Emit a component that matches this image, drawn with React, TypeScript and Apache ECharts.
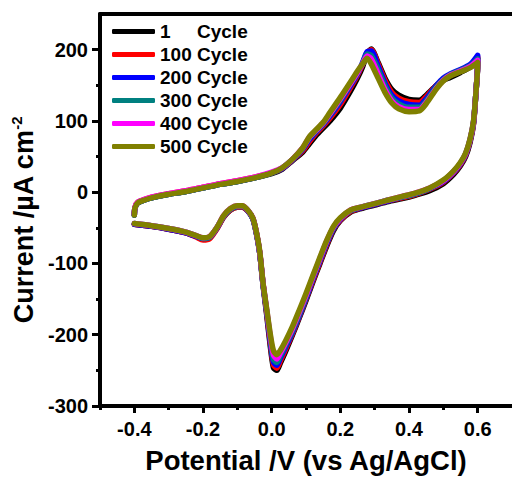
import React, { useEffect, useRef } from "react";
import * as echarts from "echarts";

const cycleNames = ["1 Cycle", "100 Cycle", "200 Cycle", "300 Cycle", "400 Cycle", "500 Cycle"];
const cycleColors = ["#000000", "#ff0000", "#0000ff", "#008080", "#ff00ff", "#808000"];

// Potential (V vs Ag/AgCl): forward scan -0.4 -> 0.6, then reverse 0.6 -> -0.4
const potentialV = [
  -0.4, -0.398, -0.39, -0.37, -0.35, -0.3, -0.25, -0.2, -0.15, -0.1, -0.05, 0.0, 0.03, 0.06, 0.09, 0.11, 0.13, 0.15, 0.17,
  0.2, 0.23, 0.25, 0.265, 0.278, 0.29, 0.31, 0.33, 0.35, 0.37, 0.4, 0.43, 0.45, 0.48, 0.5, 0.52, 0.55, 0.58, 0.6,
  0.6, 0.595, 0.588, 0.578, 0.565, 0.55, 0.53, 0.5, 0.46, 0.42, 0.38, 0.34, 0.3, 0.26, 0.23, 0.2, 0.18, 0.16, 0.14,
  0.12, 0.1, 0.08, 0.06, 0.04, 0.025, 0.015, 0.005, -0.005, -0.015, -0.025, -0.035, -0.045, -0.055, -0.07, -0.085,
  -0.1, -0.12, -0.14, -0.16, -0.18, -0.2, -0.22, -0.25, -0.3, -0.35, -0.4,
];

// Current density (µA cm^-2) per cycle, same order as potentialV
const current1 = [
  -32, -22, -15, -11, -8, -3, 1, 6, 11, 15, 20, 26, 32, 44, 56, 68, 80, 90, 100, 118, 142, 160, 176, 194, 201, 182,
  160, 144, 136, 130, 129, 136, 150, 157, 161, 168, 176, 188,
  182, 140, 96, 70, 50, 37, 25, 12, 2, -4, -9, -13, -18, -23, -28, -40, -54, -76, -101, -126, -152, -177, -201, -224,
  -240, -250, -246, -212, -170, -131, -85, -56, -37, -26, -21, -21, -25, -35, -51, -63, -65, -62, -57, -52, -48, -45,
];
const current100 = [
  -31, -21, -14, -10, -7, -2, 2, 7, 12, 16, 21, 27, 33, 45, 58, 71, 83, 93, 104, 123, 147, 164, 180, 196, 200, 180,
  157, 140, 132, 127, 126, 134, 150, 159, 164, 170, 178, 190,
  181, 140, 97, 72, 52, 39, 27, 14, 4, -3, -8, -12, -17, -22, -27, -39, -52, -74, -99, -124, -150, -175, -199, -221,
  -237, -247, -242, -208, -167, -129, -84, -56, -37, -26, -21, -21, -25, -35, -52, -65, -67, -63, -57, -52, -48, -45,
];
const current200 = [
  -32, -22, -15, -11, -8, -3, 1, 6, 11, 15, 20, 27, 33, 45, 60, 74, 85, 95, 107, 127, 150, 166, 182, 197, 198, 177,
  153, 136, 128, 123, 122, 131, 150, 160, 166, 172, 180, 192,
  180, 140, 98, 73, 53, 40, 28, 15, 5, -2, -7, -12, -17, -22, -26, -38, -51, -72, -97, -122, -149, -174, -197, -218,
  -233, -243, -238, -205, -166, -130, -85, -57, -37, -26, -20, -20, -24, -34, -51, -63, -65, -62, -57, -52, -48, -45,
];
const current300 = [
  -32, -22, -15, -11, -8, -3, 1, 6, 11, 15, 20, 27, 34, 46, 61, 76, 86, 96, 109, 129, 152, 167, 181, 194, 192, 172,
  149, 132, 124, 119, 119, 128, 148, 158, 165, 171, 178, 187,
  179, 140, 99, 74, 54, 41, 29, 16, 5, -2, -7, -11, -16, -21, -26, -37, -50, -70, -95, -120, -147, -172, -195, -215,
  -230, -239, -234, -202, -165, -129, -84, -56, -37, -25, -20, -20, -24, -34, -50, -63, -65, -61, -56, -51, -47, -44,
];
const current400 = [
  -31, -21, -14, -10, -7, -2, 2, 7, 12, 16, 21, 28, 34, 46, 62, 77, 87, 97, 110, 131, 153, 168, 180, 191, 187, 166,
  144, 128, 120, 116, 116, 126, 146, 157, 164, 170, 177, 185,
  179, 140, 99, 74, 54, 41, 29, 16, 6, -1, -6, -11, -16, -21, -25, -37, -49, -69, -94, -119, -145, -169, -192, -212,
  -226, -234, -228, -199, -163, -128, -83, -55, -36, -25, -19, -19, -23, -33, -50, -62, -64, -61, -56, -51, -47, -44,
];
const current500 = [
  -32, -22, -15, -11, -8, -3, 1, 6, 11, 15, 20, 27, 34, 46, 62, 78, 88, 98, 112, 133, 155, 170, 180, 188, 180, 160,
  140, 125, 117, 113, 114, 124, 145, 156, 163, 169, 175, 182,
  178, 140, 100, 75, 55, 42, 30, 17, 6, -1, -6, -11, -16, -21, -25, -36, -48, -68, -92, -117, -142, -166, -189, -209,
  -222, -228, -222, -196, -162, -128, -82, -55, -36, -25, -19, -19, -23, -33, -50, -62, -64, -61, -56, -51, -47, -44,
];

const xMajorTicks = [-0.4, -0.2, 0, 0.2, 0.4, 0.6];
const xMinorTicks = [-0.5, -0.3, -0.1, 0.1, 0.3, 0.5];
const yMajorTicks = [-300, -200, -100, 0, 100, 200];
const yMinorTicks = [-250, -150, -50, 50, 150];

const FONT = "'Liberation Sans', Arial, sans-serif";

export default function App() {
  const ref = useRef<HTMLDivElement>(null);

  useEffect(() => {
    if (!ref.current) return;
    const chart = echarts.init(ref.current, undefined, { renderer: "svg" });
    const currents = [current1, current100, current200, current300, current400, current500];

    const series = currents.map((cur, i) => ({
      name: cycleNames[i],
      type: "line",
      xAxisIndex: 0,
      yAxisIndex: 0,
      data: potentialV.map((v, k) => [v, cur[k]]),
      showSymbol: false,
      symbol: "none",
      smooth: 0.25,
      lineStyle: { color: cycleColors[i], width: 5.5, cap: "round", join: "round" },
      itemStyle: { color: cycleColors[i] },
      z: 2 + i,
    }));

    const axisLine = { show: true, onZero: false, lineStyle: { color: "#000", width: 4 } };

    chart.setOption({
      animation: false,
      backgroundColor: "#fff",
      grid: {
        left: 100,
        top: 14,
        right: -4,
        bottom: 72,
        show: false,
      },
      legend: {
        orient: "vertical",
        left: 112,
        top: 22,
        padding: 0,
        itemWidth: 43,
        itemHeight: 5,
        itemGap: 4,
        icon: "roundRect",
        data: cycleNames,
        formatter: (name: string) => {
          const parts = name.split(" ");
          return `{n|${parts[0]}}{c|${parts[1]}}`;
        },
        textStyle: {
          fontFamily: FONT,
          fontWeight: "bold",
          fontSize: 19,
          lineHeight: 18,
          color: "#000",
          rich: {
            n: { width: 37, fontFamily: FONT, fontWeight: "bold", fontSize: 19, lineHeight: 18, color: "#000" },
            c: { fontFamily: FONT, fontWeight: "bold", fontSize: 19, lineHeight: 18, color: "#000" },
          },
        },
      },
      xAxis: [
        {
          type: "value",
          min: -0.5,
          max: 0.7,
          position: "bottom",
          axisLine,
          splitLine: { show: false },
          axisTick: { show: true, customValues: xMajorTicks, length: 7, lineStyle: { color: "#000", width: 3 } },
          axisLabel: {
            customValues: xMajorTicks,
            formatter: (v: number) => v.toFixed(1),
            fontFamily: FONT,
            fontWeight: "bold",
            fontSize: 20,
            color: "#000",
            margin: 13,
          },
          name: "Potential /V (vs Ag/AgCl)",
          nameLocation: "middle",
          nameGap: 40,
          nameTextStyle: { fontFamily: FONT, fontWeight: "bold", fontSize: 27.5, color: "#000" },
        },
        {
          type: "value",
          min: -0.5,
          max: 0.7,
          position: "bottom",
          offset: 0,
          axisLine: { show: false, onZero: false },
          splitLine: { show: false },
          axisTick: { show: true, customValues: xMinorTicks, length: 4, lineStyle: { color: "#000", width: 3 } },
          axisLabel: { show: false },
        },
        {
          type: "value",
          min: -0.5,
          max: 0.7,
          position: "top",
          offset: 0,
          axisLine,
          splitLine: { show: false },
          axisTick: { show: false },
          axisLabel: { show: false },
        },
      ],
      yAxis: [
        {
          type: "value",
          min: -300,
          max: 250,
          position: "left",
          axisLine,
          splitLine: { show: false },
          axisTick: { show: true, customValues: yMajorTicks, length: 8, lineStyle: { color: "#000", width: 3 } },
          axisLabel: {
            customValues: yMajorTicks,
            fontFamily: FONT,
            fontWeight: "bold",
            fontSize: 20,
            color: "#000",
            margin: 12,
          },
          name: "{a|Current /µA cm}{s|-2}",
          nameLocation: "middle",
          nameGap: 58,
          nameTextStyle: {
            padding: [0, 20, 0, 0],
            rich: {
              a: { fontFamily: FONT, fontWeight: "bold", fontSize: 27, lineHeight: 30, color: "#000" },
              s: {
                fontFamily: FONT,
                fontWeight: "bold",
                fontSize: 15,
                lineHeight: 16,
                verticalAlign: "top",
                color: "#000",
              },
            },
          },
        },
        {
          type: "value",
          min: -300,
          max: 250,
          position: "left",
          offset: 0,
          axisLine: { show: false, onZero: false },
          splitLine: { show: false },
          axisTick: { show: true, customValues: yMinorTicks, length: 4, lineStyle: { color: "#000", width: 3 } },
          axisLabel: { show: false },
        },
      ],
      series,
    });

    return () => chart.dispose();
  }, []);

  return (
    <div
      ref={ref}
      style={{ position: "absolute", left: 0, top: 0, width: 512, height: 479, background: "#fff" }}
    />
  );
}
